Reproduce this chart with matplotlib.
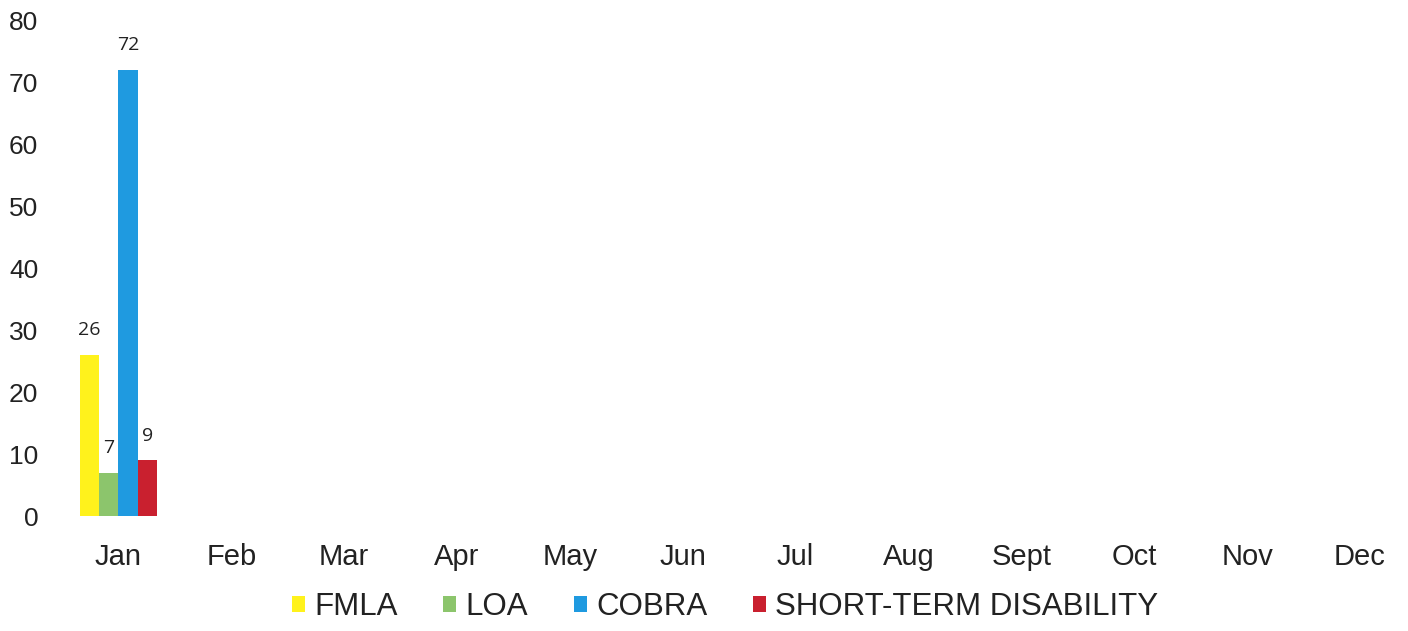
import matplotlib.pyplot as plt
import numpy as np

plt.rc("font", family=["Liberation Sans", "DejaVu Sans"])

months = ["Jan", "Feb", "Mar", "Apr", "May", "Jun", "Jul", "Aug", "Sept", "Oct", "Nov", "Dec"]
series = ["FMLA", "LOA", "COBRA", "SHORT-TERM DISABILITY"]
fmla = [26] + [np.nan] * 11
loa = [7] + [np.nan] * 11
cobra = [72] + [np.nan] * 11
std = [9] + [np.nan] * 11
colors = ["#fff21c", "#8cc56c", "#1f9ae0", "#c9202f"]

fig = plt.figure(figsize=(14.08, 6.31), dpi=100)
ax = fig.add_axes([0.044, 0.182, 0.962, 0.786])

x = np.arange(len(months))
w = 0.17
for i, (vals, name) in enumerate(zip([fmla, loa, cobra, std], series)):
    pos = x + (i - 1.5) * w
    bars = ax.bar(pos, vals, w, color=colors[i], label=name)
    for xx, v in zip(pos, vals):
        if not np.isnan(v):
            ax.text(xx, v + 2.5, f"{int(v)}", ha="center", va="bottom",
                    fontsize=14, family="Open Sans", color="#222222")

ax.set_xlim(-0.5, len(months) - 0.5)
ax.set_ylim(0, 80)
ax.set_yticks(range(0, 81, 10))
ax.set_xticks(x)
ax.set_xticklabels(months)
ax.tick_params(axis="x", length=0, pad=19, labelsize=21, colors="#222222")
ax.tick_params(axis="y", length=0, pad=17, labelsize=19, colors="#222222")
for s in ax.spines.values():
    s.set_visible(False)

fig.legend(loc="lower center", bbox_to_anchor=(0.515, -0.03), ncol=4, frameon=False,
           fontsize=22.5, handlelength=0.42, handleheight=0.42, handletextpad=0.3,
           columnspacing=1.45, labelcolor="#222222")

fig.savefig("out.png", dpi=100)
